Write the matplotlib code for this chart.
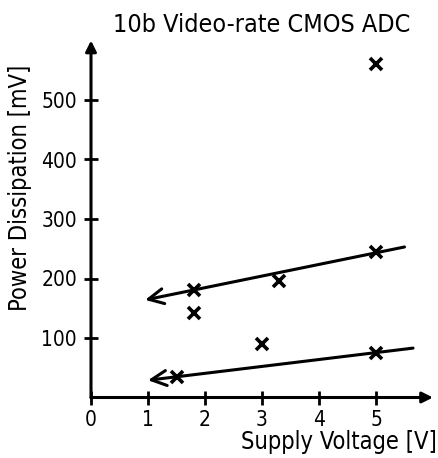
import matplotlib
matplotlib.use("Agg")
import matplotlib.pyplot as plt

# Measured ADC points: supply voltage [V] vs power dissipation [mW]
voltage = [5.0, 1.8, 1.8, 3.3, 5.0, 3.0, 5.0, 1.5]
power = [560, 180, 142, 195, 245, 90, 75, 35]

# Trend lines (start, arrow tip) in data units
upper_trend = [(5.5, 253), (0.95, 164)]
lower_trend = [(5.65, 83), (1.0, 29)]

x_ticks = [0, 1, 2, 3, 4, 5]
y_ticks = [100, 200, 300, 400, 500]

FONT = dict(family="DejaVu Sans", stretch="condensed")

fig = plt.figure(figsize=(4.38, 4.58), dpi=100)
W, H = 438, 458
x0, y0 = 91, 397.5
px_per_v, px_per_mw = 57.0, 0.595
xmax, ymax = 6.0, 600
ax = fig.add_axes([x0 / W, (H - y0) / H, xmax * px_per_v / W, ymax * px_per_mw / H])
ax.set_xlim(0, xmax)
ax.set_ylim(0, ymax)
for s in ax.spines.values():
    s.set_visible(False)

# Axes drawn as arrows
ax.annotate("", xy=(1.0, 0), xytext=(0, 0), xycoords="axes fraction",
            arrowprops=dict(arrowstyle="-|>", lw=2.2, color="black",
                            mutation_scale=16, shrinkA=0, shrinkB=0),
            annotation_clip=False)
ax.annotate("", xy=(0, 1.0), xytext=(0, 0), xycoords="axes fraction",
            arrowprops=dict(arrowstyle="-|>", lw=2.2, color="black",
                            mutation_scale=16, shrinkA=0, shrinkB=0),
            annotation_clip=False)

ax.set_xticks(x_ticks)
ax.set_yticks(y_ticks)
ax.set_xticklabels([str(t) for t in x_ticks], fontsize=15, **FONT)
ax.set_yticklabels([str(t) for t in y_ticks], fontsize=15, **FONT)
ax.tick_params(direction="inout", length=10, width=2, colors="black")
ax.tick_params(axis="x", pad=4)
ax.tick_params(axis="y", pad=5)

# Data markers
ax.plot(voltage, power, linestyle="none", marker="x", markersize=8,
        markeredgewidth=2.6, color="black", clip_on=False)

# Trend lines with open arrowheads
for (start, tip) in (upper_trend, lower_trend):
    ax.annotate("", xy=tip, xytext=start,
                arrowprops=dict(arrowstyle="->", lw=2.2, color="black",
                                mutation_scale=27, shrinkA=0, shrinkB=0),
                annotation_clip=False)

fig.text(262 / W, 1 - 25 / H, "10b Video-rate CMOS ADC",
         fontsize=18, ha="center", va="center", **FONT)
fig.text(20 / W, 1 - 188 / H, "Power Dissipation [mV]",
         fontsize=17, rotation=90, ha="center", va="center", **FONT)
fig.text(437 / W, 1 - 442 / H, "Supply Voltage [V]",
         fontsize=17, ha="right", va="center", **FONT)

fig.savefig("out.png", dpi=100)
